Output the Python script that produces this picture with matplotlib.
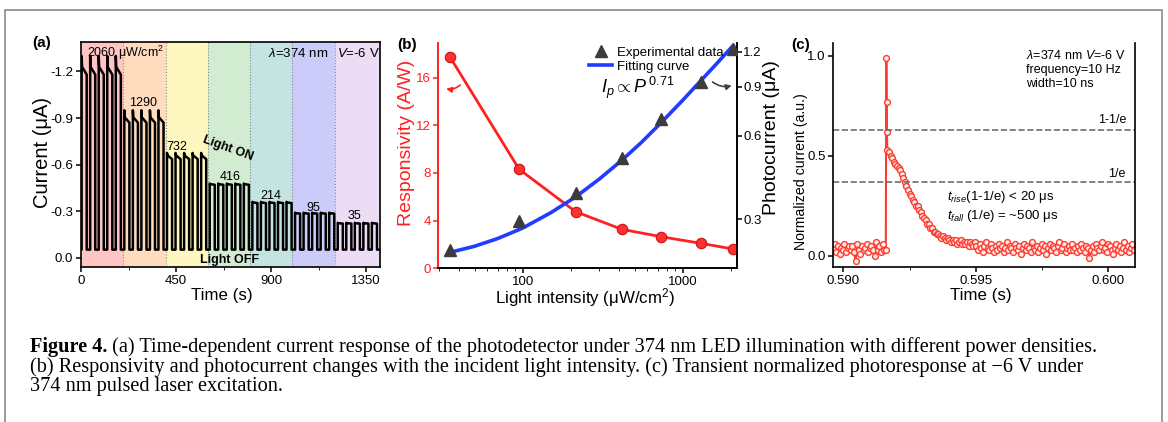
import numpy as np
import matplotlib
matplotlib.use("Agg")
import matplotlib.pyplot as plt
from matplotlib.patches import Rectangle
from matplotlib.ticker import FixedLocator, NullFormatter, FuncFormatter, MultipleLocator

plt.rcParams['font.family'] = ['Liberation Sans', 'DejaVu Sans']
plt.rcParams['axes.unicode_minus'] = False
plt.rcParams['mathtext.fontset'] = 'custom'
plt.rcParams['mathtext.rm'] = 'Liberation Sans'
plt.rcParams['mathtext.it'] = 'Liberation Sans:italic'
plt.rcParams['axes.linewidth'] = 1.2
plt.rcParams['xtick.major.width'] = 1.1
plt.rcParams['ytick.major.width'] = 1.1
plt.rcParams['xtick.major.size'] = 3.5
plt.rcParams['ytick.major.size'] = 3.5
plt.rcParams['xtick.minor.size'] = 2.2
plt.rcParams['ytick.minor.size'] = 2.2
plt.rcParams['xtick.major.pad'] = 2
plt.rcParams['ytick.major.pad'] = 2
plt.rcParams['xtick.labelsize'] = 9.5
plt.rcParams['ytick.labelsize'] = 9.5

# ---- (a) time-dependent current ----
intensity = [2060, 1290, 732, 416, 214, 95, 35]
peak_a = [-1.30, -0.95, -0.675, -0.478, -0.36, -0.29, -0.225]
shoulder_a = [-1.23, -0.905, -0.66, -0.474, -0.356, -0.287, -0.222]
end_a = [-1.18, -0.87, -0.635, -0.47, -0.352, -0.284, -0.22]
off_a = -0.052
region_edges = [0, 200, 400, 600, 800, 1000, 1200, 1415]
region_colors = ['#FFC4C4', '#FFDCBE', '#FFF7C0', '#D2ECD2', '#C4E4E1',
                 '#CCCCFA', '#EDDCF5']

# ---- (b) responsivity / photocurrent ----
light = [35, 95, 214, 416, 732, 1290, 2060]
responsivity = [17.76, 8.31, 4.75, 3.27, 2.65, 2.10, 1.62]
photocurrent = [0.233, 0.297, 0.372, 0.497, 0.69, 0.935, 1.23]
fit_x = [35, 50, 70, 100, 150, 214, 300, 416, 550, 732, 1000, 1290, 1600, 2060]
fit_y = [0.228, 0.240, 0.256, 0.279, 0.317, 0.361, 0.418, 0.489, 0.566, 0.667,
         0.804, 0.942, 1.076, 1.262]

# ---- (c) transient response ----
t_pre_start = 0.58962
dt_c = 6e-5
pre_vals = [0.04, 0.06, 0.02, 0.05, 0.01, 0.04, 0.03, 0.06, 0.02, 0.04,
            0.05, 0.03, 0.05, 0.02, -0.025, 0.06, 0.03, 0.01, 0.05, 0.03,
            0.04, 0.06, 0.02, 0.04, 0.05, 0.03, 0.00, 0.07, 0.03, 0.05,
            0.02, 0.06, 0.03]
spike_t = [0.59160, 0.59162, 0.59163, 0.59164, 0.59166]
spike_v = [0.03, 0.99, 0.77, 0.62, 0.53]
decay_start = 0.59172
decay_vals = [0.52, 0.50, 0.49, 0.47, 0.46, 0.45, 0.44, 0.43, 0.41, 0.39,
              0.37, 0.35, 0.33, 0.31, 0.30, 0.28, 0.27, 0.25, 0.25, 0.23,
              0.22, 0.20, 0.19, 0.18, 0.16, 0.16, 0.14, 0.14, 0.12, 0.12,
              0.11, 0.11, 0.10, 0.09, 0.10, 0.09, 0.08, 0.09, 0.08, 0.07,
              0.08, 0.07, 0.08, 0.06, 0.07, 0.08, 0.06, 0.07, 0.06, 0.07,
              0.05, 0.07, 0.06, 0.05, 0.07]
tail_vals = [0.05, 0.03, 0.06, 0.04, 0.02, 0.05, 0.07, 0.04, 0.03, 0.06,
             0.04, 0.02, 0.05, 0.03, 0.06, 0.04, 0.05, 0.02, 0.04, 0.07,
             0.03, 0.05, 0.04, 0.02, 0.06, 0.04, 0.03, 0.05, 0.01, 0.04,
             0.06, 0.03, 0.05, 0.04, 0.02, 0.07, 0.04, 0.03, 0.05, 0.02,
             0.04, 0.06, 0.03, 0.05, 0.01, 0.04, 0.06, 0.03, 0.05, 0.04,
             0.02, 0.05, 0.07, 0.03, 0.04, 0.06, 0.02, 0.04, 0.05, 0.03,
             0.06, 0.03, 0.04, 0.02, 0.05, 0.03, 0.06, 0.04, 0.02, 0.05,
             0.04, -0.01, 0.03, 0.05, 0.02, 0.06, 0.04, 0.03, 0.05, 0.07,
             0.03, 0.04, 0.02, 0.06, 0.05, 0.03, 0.01, 0.04, 0.06, 0.03,
             0.05, 0.02, 0.04, 0.07, 0.03, 0.05, 0.02, 0.04, 0.06, 0.03]

caption_bold = "Figure 4."
caption_lines = [
    " (a) Time-dependent current response of the photodetector under 374 nm LED illumination with different power densities.",
    "(b) Responsivity and photocurrent changes with the incident light intensity. (c) Transient normalized photoresponse at \u22126 V under",
    "374 nm pulsed laser excitation.",
]

W, H = 1168, 422
fig = plt.figure(figsize=(W / 100, H / 100), dpi=100)

def box(l, t, r, b):
    return [l / W, 1 - b / H, (r - l) / W, (b - t) / H]

def place_labels(a, xlab, ylab):
    a.xaxis.set_label_coords(*xlab)
    a.xaxis.label.set_va('center')
    a.yaxis.set_label_coords(*ylab)
    a.yaxis.label.set_va('center')

# outer frame
fig.patches.append(Rectangle((5 / W, -0.05), (1161.7 - 5) / W, 1 - 10 / H + 0.05,
                             transform=fig.transFigure, fill=False,
                             edgecolor='#8a8a8a', lw=1.2))

# ================= (a) =================
ax = fig.add_axes(box(81, 42, 380, 267))
for k in range(7):
    ax.axvspan(region_edges[k], region_edges[k + 1], color=region_colors[k], lw=0, zorder=0)
for e in region_edges[1:-1]:
    ax.axvline(e, ls=':', color='#888888', lw=0.8, zorder=1)

t_first, period, t_on = 3, 40.4, 24
t_pts, i_pts = [0], [off_a]
for n in range(35):
    k = n // 5
    t0 = t_first + n * period
    t1 = t0 + t_on
    t_pts += [t0, t0, t0 + 2, t1, t1]
    i_pts += [off_a, peak_a[k], shoulder_a[k], end_a[k], off_a]
t_pts.append(region_edges[-1])
i_pts.append(off_a)
ax.plot(t_pts, i_pts, color='black', lw=1.8, zorder=3)

ax.set_xlim(0, region_edges[-1])
ax.set_ylim(0.06, -1.39)
ax.set_xticks([0, 450, 900, 1350])
ax.xaxis.set_minor_locator(MultipleLocator(225))
ax.set_yticks([0.0, -0.3, -0.6, -0.9, -1.2])
ax.yaxis.set_major_formatter(FuncFormatter(lambda v, p: f"{v:.1f}" if abs(v) > 1e-9 else "0.0"))
ax.set_xlabel("Time (s)", fontsize=12.2)
ax.set_ylabel("Current (\u03bcA)", fontsize=14.5)
place_labels(ax, (0.47, -0.125), (-0.128, 0.509))

ax.text(0.02, 0.951, "2060 \u03bcW/cm$^2$", transform=ax.transAxes, fontsize=9, va='center')
for lab, x, y in zip(intensity[1:], [0.207, 0.321, 0.498, 0.635, 0.776, 0.916],
                     [0.729, 0.533, 0.40, 0.316, 0.262, 0.227]):
    ax.text(x, y, str(lab), transform=ax.transAxes, fontsize=9, ha='center', va='center')
ax.text(0.826, 0.951, r"$\mathit{\lambda}$=374 nm", transform=ax.transAxes, fontsize=9.5,
        ha='right', va='center')
ax.text(0.856, 0.951, r"$\mathit{V}$=-6 V", transform=ax.transAxes, fontsize=9.5,
        ha='left', va='center')
ax.text(0.492, 0.529, "Light ON", transform=ax.transAxes, fontsize=9, fontweight='bold',
        ha='center', va='center', rotation=-20)
ax.text(0.498, 0.031, "Light OFF", transform=ax.transAxes, fontsize=9, fontweight='bold',
        ha='center', va='center')

# ================= (b) =================
red = '#FF2020'
bx = fig.add_axes(box(438.3, 43, 737.3, 268.3))
bx2 = bx.twinx()
bx.plot(light, responsivity, color=red, lw=2, marker='o', ms=7.5,
        mfc='#FF3030', mec='#D01010', mew=0.8, zorder=3)
fit_h, = bx2.plot(fit_x, fit_y, color='#1f3cff', lw=2.6, label='Fitting curve', zorder=2)
tri_h, = bx2.plot(light, photocurrent, ls='none', marker='^', ms=9, color='#3c3c3c',
                  label='Experimental data', zorder=3)
bx.set_xscale('log')
bx.set_xlim(29.7, 2190)
bx.set_ylim(0, 18.9)
bx.set_yticks([0, 4, 8, 12, 16])
bx.xaxis.set_major_locator(FixedLocator([100, 1000]))
bx.xaxis.set_major_formatter(FuncFormatter(lambda v, p: f"{v:g}"))
bx.xaxis.set_minor_formatter(NullFormatter())
bx2.set_yscale('log')
bx2.set_ylim(0.20, 1.29)
bx2.yaxis.set_major_locator(FixedLocator([0.3, 0.6, 0.9, 1.2]))
bx2.yaxis.set_major_formatter(FuncFormatter(lambda v, p: f"{v:.1f}"))
bx2.yaxis.set_minor_locator(FixedLocator([]))
bx2.yaxis.set_minor_formatter(NullFormatter())
bx2.tick_params(axis='y', pad=0.8)
for a in (bx, bx2):
    a.spines['top'].set_visible(False)
    a.spines['left'].set_color(red)
bx.tick_params(axis='y', colors=red)
bx.set_ylabel("Responsivity (A/W)", color=red, fontsize=14)
bx.set_xlabel("Light intensity (\u03bcW/cm$^2$)", fontsize=12.2)
place_labels(bx, (0.49, -0.128), (-0.106, 0.556))
bx2.set_ylabel("Photocurrent (\u03bcA)", fontsize=14)
bx2.yaxis.set_label_coords(1.113, 0.58)
bx2.yaxis.label.set_va('center')
bx2.legend(handles=[tri_h, fit_h], loc='upper left', bbox_to_anchor=(0.505, 0.985),
           frameon=False, fontsize=9.5, handlelength=1.7, handletextpad=0.4,
           labelspacing=0.15, borderpad=0, borderaxespad=0)
bx.text(0.545, 0.80, r"$I_p \propto P^{\,0.71}$", transform=bx.transAxes, fontsize=13,
        ha='left', va='center')
bx.annotate("", xy=(0.017, 0.799), xytext=(0.08, 0.822), xycoords='axes fraction',
            arrowprops=dict(arrowstyle='-|>', color=red, lw=1.2,
                            connectionstyle='arc3,rad=-0.3', mutation_scale=8))
bx.annotate("", xy=(0.99, 0.815), xytext=(0.91, 0.835), xycoords='axes fraction',
            arrowprops=dict(arrowstyle='-|>', color='#404040', lw=1.2,
                            connectionstyle='arc3,rad=0.3', mutation_scale=8))

# ================= (c) =================
cx = fig.add_axes(box(833.3, 43, 1135, 267.3))
t_c = np.concatenate([t_pre_start + dt_c * np.arange(len(pre_vals)),
                      spike_t,
                      decay_start + dt_c * np.arange(len(decay_vals) + len(tail_vals))])
i_c = np.concatenate([pre_vals, spike_v, decay_vals, tail_vals])
cx.plot(t_c, i_c, color='#FF3B2F', lw=1.5, marker='o', ms=4.2, mfc='#FFEDEA',
        mec='#FF3B2F', mew=1.0)
cx.axhline(1 - 1 / np.e, ls='--', color='#6e6e6e', lw=1.2)
cx.axhline(1 / np.e, ls='--', color='#6e6e6e', lw=1.2)
cx.set_xlim(0.58962, 0.6010)
cx.set_ylim(-0.0565, 1.065)
cx.set_xticks([0.590, 0.595, 0.600])
cx.xaxis.set_major_formatter(FuncFormatter(lambda v, p: f"{v:.3f}"))
cx.xaxis.set_minor_locator(MultipleLocator(0.0025))
cx.set_yticks([0.0, 0.5, 1.0])
cx.yaxis.set_major_formatter(FuncFormatter(lambda v, p: f"{v:.1f}"))
cx.spines['top'].set_visible(False)
cx.set_xlabel("Time (s)", fontsize=12.2)
cx.set_ylabel("Normalized current (a.u.)", fontsize=10.2)
place_labels(cx, (0.49, -0.125), (-0.106, 0.425))
cx.text(0.638, 0.946, r"$\mathit{\lambda}$=374 nm $\mathit{V}$=-6 V", transform=cx.transAxes,
        fontsize=9, va='center')
cx.text(0.638, 0.88, "frequency=10 Hz", transform=cx.transAxes, fontsize=9, va='center')
cx.text(0.638, 0.817, "width=10 ns", transform=cx.transAxes, fontsize=9, va='center')
cx.text(0.973, 0.657, "1-1/e", transform=cx.transAxes, fontsize=9, ha='right', va='center')
cx.text(0.967, 0.416, "1/e", transform=cx.transAxes, fontsize=9, ha='right', va='center')
cx.text(0.376, 0.315, "$t_{rise}$(1-1/e) < 20 \u03bcs",
        transform=cx.transAxes, fontsize=9.5, va='center')
cx.text(0.376, 0.229, "$t_{fall}$ (1/e) = ~500 \u03bcs",
        transform=cx.transAxes, fontsize=9.5, va='center')

# panel labels
for lab, px, py in [("(a)", 41.7, 43.3), ("(b)", 406.7, 45), ("(c)", 801, 45)]:
    fig.text(px / W, 1 - py / H, lab, fontsize=11, fontweight='bold', ha='center', va='center')

# caption
serif = ['Liberation Serif', 'DejaVu Serif']
cap_fs = 14.6
cap_y = [346.7, 366.7, 387]
tb = fig.text(30 / W, 1 - cap_y[0] / H, caption_bold, fontsize=cap_fs, fontweight='bold',
              family=serif, va='center')
fig.canvas.draw()
bb = tb.get_window_extent(fig.canvas.get_renderer())
fig.text(bb.x1 / fig.bbox.width, 1 - cap_y[0] / H, caption_lines[0], fontsize=cap_fs,
         family=serif, va='center')
for line, y in zip(caption_lines[1:], cap_y[1:]):
    fig.text(30 / W, 1 - y / H, line, fontsize=cap_fs, family=serif, va='center')

fig.savefig("out.png", dpi=100)
